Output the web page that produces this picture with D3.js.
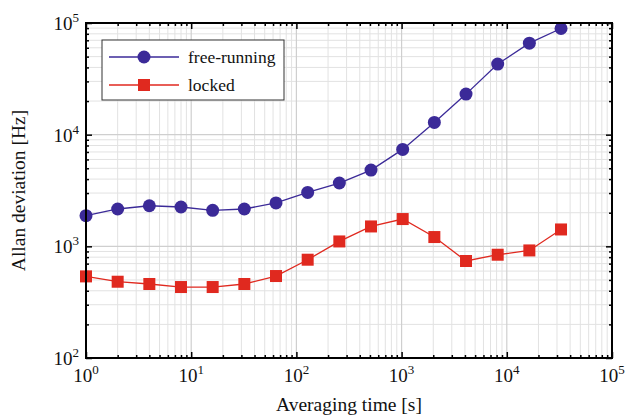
<!DOCTYPE html>
<html><head><meta charset="utf-8">
<script src="https://cdn.jsdelivr.net/npm/d3@7"></script>
<style>
html,body{margin:0;padding:0;background:#fff;font-family:'Liberation Serif';}
text, tspan {font-family:'Liberation Serif', 'Times New Roman' !important;}
</style></head>
<body><svg id="c" width="627" height="419" style="font-family:'Liberation Serif'"></svg>
<script>
const tau = [1,2,4,8,16,32,64,128,256,512,1024,2048,4096,8192,16384,32768];
const freeRunning = [1880,2160,2310,2250,2100,2160,2450,3040,3690,4820,7380,12860,23080,42880,66000,89300];
const locked = [538,482,460,432,432,460,542,759,1106,1507,1755,1211,739,841,919,1416];
const xTickExps = [0,1,2,3,4,5];
const yTickExps = [2,3,4,5];
const seriesNames = ["free-running","locked"];

const m = {l:86, r:612, t:23, b:358};
const svg = d3.select("#c");
const x = d3.scaleLog().domain([1,1e5]).range([m.l,m.r]);
const y = d3.scaleLog().domain([1e2,1e5]).range([m.b,m.t]);

const xMinor = [], yMinor = [];
for (let e=0;e<5;e++) for (let k=2;k<=9;k++) xMinor.push(k*Math.pow(10,e));
for (let e=2;e<5;e++) for (let k=2;k<=9;k++) yMinor.push(k*Math.pow(10,e));
const xMajor = xTickExps.map(e=>Math.pow(10,e));
const yMajor = yTickExps.map(e=>Math.pow(10,e));

function txt(sel){ return sel.attr("font-family","Liberation Serif").style("font-family","'Liberation Serif'").attr("fill","#111"); }

const g = svg.append("g");
g.selectAll(".gxm").data(xMinor).join("line").attr("x1",d=>x(d)).attr("x2",d=>x(d)).attr("y1",m.t).attr("y2",m.b).attr("stroke","#e2e2e2").attr("stroke-width",1);
g.selectAll(".gym").data(yMinor).join("line").attr("y1",d=>y(d)).attr("y2",d=>y(d)).attr("x1",m.l).attr("x2",m.r).attr("stroke","#e2e2e2").attr("stroke-width",1);
g.selectAll(".gxM").data(xMajor).join("line").attr("x1",d=>x(d)).attr("x2",d=>x(d)).attr("y1",m.t).attr("y2",m.b).attr("stroke","#cfcfcf").attr("stroke-width",1.2);
g.selectAll(".gyM").data(yMajor).join("line").attr("y1",d=>y(d)).attr("y2",d=>y(d)).attr("x1",m.l).attr("x2",m.r).attr("stroke","#cfcfcf").attr("stroke-width",1.2);

function axisTicks(axisGen, scale, vals, size, transform){
  const a = svg.append("g").attr("transform",transform)
    .call(axisGen(scale).tickValues(vals).tickSizeInner(size).tickSizeOuter(0).tickFormat(""));
  a.select(".domain").remove();
  a.selectAll("text").remove();
  a.selectAll("line").attr("stroke","#000").attr("stroke-width",1.5);
  return a;
}
axisTicks(d3.axisTop, x, xMinor, 3, `translate(0,${m.b})`);
axisTicks(d3.axisTop, x, xMajor, 6, `translate(0,${m.b})`);
axisTicks(d3.axisBottom, x, xMinor, 3, `translate(0,${m.t})`);
axisTicks(d3.axisBottom, x, xMajor, 6, `translate(0,${m.t})`);
axisTicks(d3.axisRight, y, yMinor, 3, `translate(${m.l},0)`);
axisTicks(d3.axisRight, y, yMajor, 6, `translate(${m.l},0)`);
axisTicks(d3.axisLeft, y, yMinor, 3, `translate(${m.r},0)`);
axisTicks(d3.axisLeft, y, yMajor, 6, `translate(${m.r},0)`);

const blue = "#3b2a98", red = "#e0291f";
const line = d3.line().x(d=>x(d[0])).y(d=>y(d[1]));
const fr = tau.map((t,i)=>[t,freeRunning[i]]);
const lk = tau.map((t,i)=>[t,locked[i]]);
svg.append("path").datum(fr).attr("d",line).attr("fill","none").attr("stroke",blue).attr("stroke-width",1.3);
svg.append("path").datum(lk).attr("d",line).attr("fill","none").attr("stroke",red).attr("stroke-width",1.3);
svg.selectAll(".c").data(fr).join("circle").attr("cx",d=>x(d[0])).attr("cy",d=>y(d[1])).attr("r",6.5).attr("fill",blue);
svg.selectAll(".s").data(lk).join("rect").attr("x",d=>x(d[0])-6).attr("y",d=>y(d[1])-6).attr("width",12).attr("height",12).attr("fill",red);

svg.append("rect").attr("x",m.l).attr("y",m.t).attr("width",m.r-m.l).attr("height",m.b-m.t).attr("fill","none").attr("stroke","#000").attr("stroke-width",2);

const xl = txt(svg.selectAll(".xl").data(xTickExps).join("text")).attr("x",d=>x(Math.pow(10,d))).attr("y",382).attr("text-anchor","middle").attr("font-size",19);
xl.append("tspan").text("10");
xl.append("tspan").attr("dy",-8).attr("font-size",13).text(d=>d);
const yl = txt(svg.selectAll(".yl").data(yTickExps).join("text")).attr("x",79).attr("y",d=>y(Math.pow(10,d))+7).attr("text-anchor","end").attr("font-size",19);
yl.append("tspan").text("10");
yl.append("tspan").attr("dy",-8).attr("font-size",13).text(d=>d);

txt(svg.append("text")).attr("x",(m.l+m.r)/2).attr("y",411).attr("text-anchor","middle").attr("font-size",19.5).text("Averaging time [s]");
txt(svg.append("text")).attr("transform",`translate(25,${(m.t+m.b)/2}) rotate(-90)`).attr("text-anchor","middle").attr("font-size",19.5).text("Allan deviation [Hz]");

const lg = svg.append("g");
lg.append("rect").attr("x",102).attr("y",40).attr("width",182).attr("height",60).attr("fill","#fff").attr("stroke","#333").attr("stroke-width",1);
const rows = [{name:seriesNames[0],c:blue,shape:"circle",y:57},{name:seriesNames[1],c:red,shape:"rect",y:85}];
rows.forEach(r=>{
  lg.append("line").attr("x1",109).attr("x2",179).attr("y1",r.y).attr("y2",r.y).attr("stroke",r.c).attr("stroke-width",1.3);
  if(r.shape==="circle") lg.append("circle").attr("cx",144).attr("cy",r.y).attr("r",6.5).attr("fill",r.c);
  else lg.append("rect").attr("x",138).attr("y",r.y-6).attr("width",12).attr("height",12).attr("fill",r.c);
  txt(lg.append("text")).attr("x",188).attr("y",r.y+5.5).attr("font-size",17.5).text(r.name);
});
</script></body></html>
